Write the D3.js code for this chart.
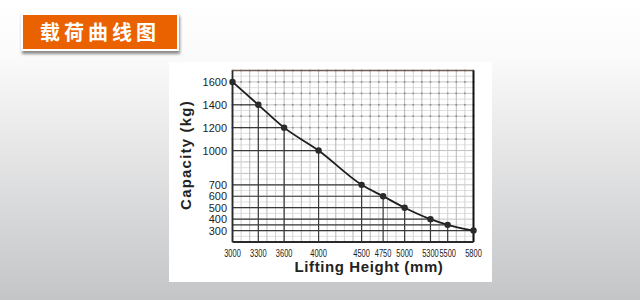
<!DOCTYPE html>
<html>
<head>
<meta charset="utf-8">
<script src="https://cdn.jsdelivr.net/npm/d3@7"></script>
<style>
  html, body { margin: 0; padding: 0; }
  svg { display: block; }
</style>
</head>
<body>
<svg id="chart" width="640" height="300"></svg>
<script>
// load chart data
const title = '载荷曲线图'
const heights = [3000, 3300, 3600, 4000, 4500, 4750, 5000, 5300, 5500, 5800]
const capacity = [1600, 1400, 1200, 1000, 700, 600, 500, 400, 350, 300]
const yTicks = [1600, 1400, 1200, 1000, 700, 600, 500, 400, 300]
const xTicks = heights

const svg = d3.select('#chart')

// background gradient
const defs = svg.append('defs')
const grad = defs.append('linearGradient')
  .attr('id', 'bg').attr('x1', 0).attr('y1', 0).attr('x2', 0).attr('y2', 1)
grad.append('stop').attr('offset', '0%').attr('stop-color', '#ffffff')
grad.append('stop').attr('offset', '18%').attr('stop-color', '#fbfbfb')
grad.append('stop').attr('offset', '100%').attr('stop-color', '#c4c5c7')
const shadow = defs.append('filter').attr('id', 'shadow')
  .attr('x', '-10%').attr('y', '-20%').attr('width', '130%').attr('height', '160%')
shadow.append('feDropShadow')
  .attr('dx', 1).attr('dy', 3).attr('stdDeviation', 1.5)
  .attr('flood-color', '#000').attr('flood-opacity', 0.45)

svg.append('rect').attr('width', 640).attr('height', 300).attr('fill', 'url(#bg)')

// title tab
svg.append('rect')
  .attr('x', 21).attr('y', 13).attr('width', 158).attr('height', 38)
  .attr('fill', '#fff').attr('filter', 'url(#shadow)')
svg.append('rect')
  .attr('x', 23).attr('y', 15).attr('width', 154).attr('height', 34)
  .attr('fill', '#ea6200')
svg.append('text')
  .attr('x', 100).attr('y', 40)
  .attr('text-anchor', 'middle')
  .style('font-family', '"Noto Sans CJK SC", sans-serif')
  .style('font-weight', 'bold')
  .style('font-size', '20px')
  .style('letter-spacing', '4px')
  .attr('fill', '#fff')
  .text(title)

// white panel
svg.append('rect')
  .attr('x', 169).attr('y', 62).attr('width', 323).attr('height', 220)
  .attr('fill', '#fff')

const x = d3.scaleLinear().domain([3000, 5800]).range([232.5, 473.5])
const y = d3.scaleLinear().domain([200, 1700]).range([242, 70.5])

const g = svg.append('g')

// light grid
const vGrid = d3.range(3000, 5801, 100)
const hGrid = d3.range(250, 1701, 50)
g.selectAll('.hg')
  .data(hGrid)
  .enter().append('line')
  .attr('x1', x(3000)).attr('x2', x(5800))
  .attr('y1', d => y(d)).attr('y2', d => y(d))
  .attr('stroke', d => d % 100 === 0 ? '#c2c2c2' : '#e0e0e0')
  .attr('stroke-width', 1)
g.selectAll('.vg')
  .data(vGrid)
  .enter().append('line')
  .attr('x1', d => x(d)).attr('x2', d => x(d))
  .attr('y1', y(200)).attr('y2', y(1700))
  .attr('stroke', (d, i) => i % 2 ? '#d2d2d2' : '#b6b6b6')
  .attr('stroke-width', 1)

// small dots at grid crossings
const dots = []
d3.range(1100, 1701, 100).forEach(v => vGrid.forEach(h => dots.push([h, v])))
g.selectAll('.dot')
  .data(dots)
  .enter().append('rect')
  .attr('x', d => x(d[0]) - 0.8).attr('y', d => y(d[1]) - 0.8)
  .attr('width', 1.6).attr('height', 1.6)
  .attr('fill', '#8a8a8a')

// reference lines to each point
const data = heights.map((h, i) => ({ h: h, c: capacity[i] }))
g.selectAll('.refh')
  .data(data)
  .enter().append('line')
  .attr('x1', x(3000)).attr('x2', d => x(d.h))
  .attr('y1', d => y(d.c)).attr('y2', d => y(d.c))
  .attr('stroke', '#3a3a3a').attr('stroke-width', 1.2)
g.selectAll('.refv')
  .data(data)
  .enter().append('line')
  .attr('x1', d => x(d.h)).attr('x2', d => x(d.h))
  .attr('y1', d => y(d.c)).attr('y2', y(200))
  .attr('stroke', '#3a3a3a').attr('stroke-width', 1.2)

// frame
g.append('line')
  .attr('x1', x(3000)).attr('x2', x(5800)).attr('y1', y(1700)).attr('y2', y(1700))
  .attr('stroke', '#6e5e55').attr('stroke-width', 1.5)
g.append('line')
  .attr('x1', x(5800)).attr('x2', x(5800)).attr('y1', y(1700)).attr('y2', y(200))
  .attr('stroke', '#111').attr('stroke-width', 2)
g.append('line')
  .attr('x1', x(3000)).attr('x2', x(5800)).attr('y1', y(200)).attr('y2', y(200))
  .attr('stroke', '#2a2a2a').attr('stroke-width', 1.8)
g.append('line')
  .attr('x1', x(3000)).attr('x2', x(3000)).attr('y1', y(1700)).attr('y2', y(200))
  .attr('stroke', '#2a2a2a').attr('stroke-width', 1.8)

// curve
const line = d3.line()
  .x(d => x(d.h)).y(d => y(d.c))
  .curve(d3.curveMonotoneX)
g.append('path')
  .datum(data)
  .attr('d', line)
  .attr('fill', 'none')
  .attr('stroke', '#1e1e1e')
  .attr('stroke-width', 1.8)
g.selectAll('.pt')
  .data(data)
  .enter().append('circle')
  .attr('cx', d => x(d.h)).attr('cy', d => y(d.c))
  .attr('r', 3.2)
  .attr('fill', '#2a2a2a')

// tick labels (condensed via textLength)
const sans = '"Liberation Sans", Arial, sans-serif'
g.selectAll('.yl')
  .data(yTicks)
  .enter().append('text')
  .attr('x', 227).attr('y', d => y(d) + 4)
  .attr('text-anchor', 'end')
  .attr('textLength', d => String(d).length * 6.1)
  .attr('lengthAdjust', 'spacingAndGlyphs')
  .style('font-family', sans)
  .style('font-size', '11px')
  .attr('fill', '#222')
  .text(d => d)
g.selectAll('.xl')
  .data(xTicks)
  .enter().append('text')
  .attr('x', d => x(d)).attr('y', 257)
  .attr('text-anchor', 'middle')
  .attr('textLength', 16.6)
  .attr('lengthAdjust', 'spacingAndGlyphs')
  .style('font-family', sans)
  .style('font-size', '11.5px')
  .attr('fill', '#222')
  .text(d => d)

// axis titles
svg.append('text')
  .attr('transform', 'translate(191,155) rotate(-90)')
  .attr('text-anchor', 'middle')
  .style('font-family', sans)
  .style('font-weight', 'bold')
  .style('font-size', '15px')
  .style('letter-spacing', '1.2px')
  .attr('fill', '#222')
  .text('Capacity (kg)')
svg.append('text')
  .attr('x', 369).attr('y', 272)
  .attr('text-anchor', 'middle')
  .style('font-family', sans)
  .style('font-weight', 'bold')
  .style('font-size', '15px')
  .style('letter-spacing', '0.6px')
  .attr('fill', '#222')
  .text('Lifting Height (mm)')
</script>
</body>
</html>
